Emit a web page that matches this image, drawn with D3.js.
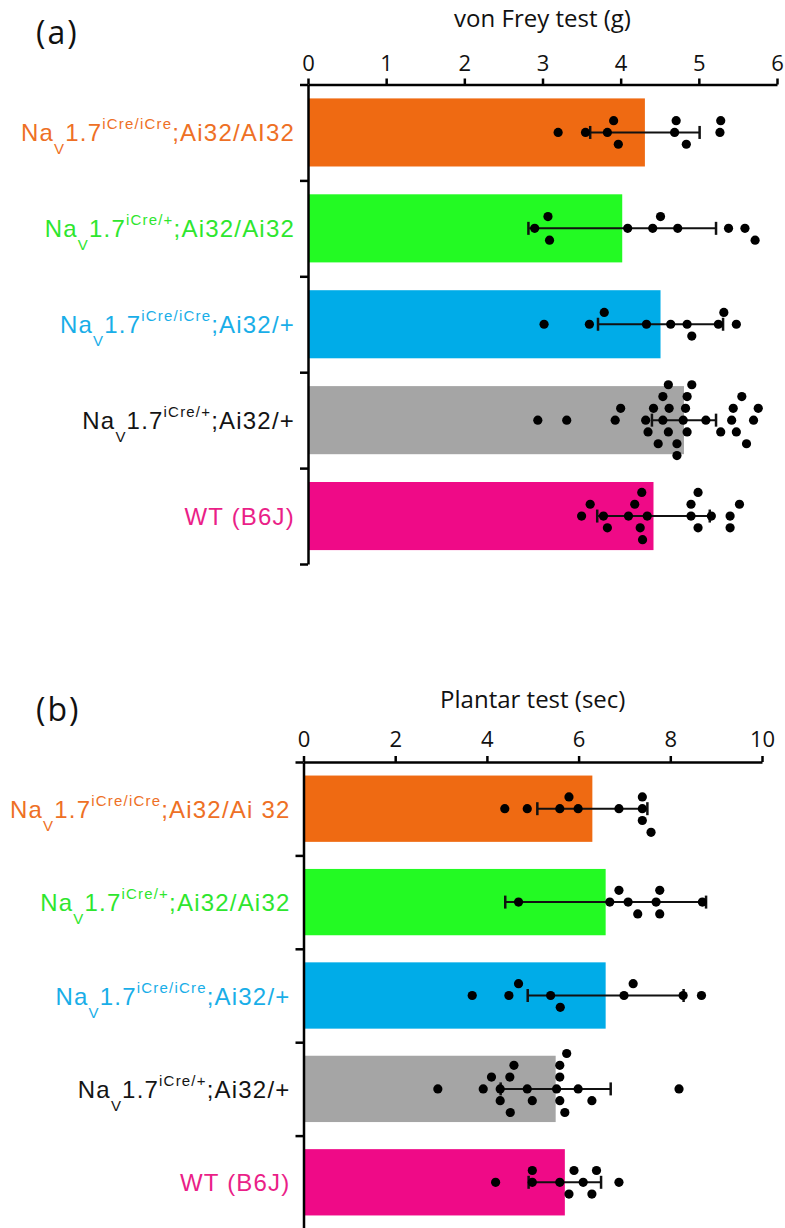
<!DOCTYPE html>
<meta charset="utf-8">
<style>
body { margin: 0; padding: 0; background: #fff; }
svg { display: block; }
.axis path, .axis line { stroke: #000; stroke-width: 2.5px; }
.axis text { font-family: "Open Sans", sans-serif; fill: #111; }
.title { font-family: "Open Sans", sans-serif; fill: #111; }
.glabel { font-family: "Liberation Sans", Arial, sans-serif; letter-spacing: 1.2px; }
</style>
<body>
<script src="https://cdn.jsdelivr.net/npm/d3@7"></script>
<script>
// group labels: NaV1.7^{sup} + tail, the WT row has no prefix
var supText = ["iCre/iCre", "iCre/+", "iCre/iCre", "iCre/+", ""];
var tailA = [";Ai32/AI32", ";Ai32/Ai32", ";Ai32/+", ";Ai32/+", "WT (B6J)"];
var tailB = [";Ai32/Ai 32", ";Ai32/Ai32", ";Ai32/+", ";Ai32/+", "WT (B6J)"];

var barColors = ["#EF6A12", "#23FA23", "#00ACE8", "#A5A5A5", "#EF0A87"];
var labelColors = ["#EE7025", "#2EE62E", "#19AEE8", "#141414", "#EA1F88"];

// (a) von Frey test (g)
var vonFreyTicks = [0, 1, 2, 3, 4, 5, 6];
var vonFreyMean = [4.31, 4.02, 4.51, 4.81, 4.42];
var vonFreySD = [0.70, 1.20, 0.80, 0.41, 0.72];
var vonFreyPoints = [
	[3.20, 3.55, 3.83, 3.91, 3.97, 4.69, 4.71, 4.84, 5.27, 5.28],
	[2.90, 3.07, 3.09, 4.09, 4.41, 4.51, 4.73, 5.38, 5.59, 5.72],
	[3.02, 3.60, 3.79, 4.33, 4.64, 4.85, 4.91, 5.25, 5.32, 5.48],
	[2.94, 3.31, 3.93, 4.00, 4.32, 4.35, 4.42, 4.48, 4.54, 4.54, 4.61, 4.61, 4.62, 4.72, 4.72,
	 4.80, 4.83, 4.85, 4.85, 4.91, 5.09, 5.28, 5.42, 5.44, 5.48, 5.55, 5.61, 5.70, 5.76],
	[3.50, 3.61, 3.78, 3.83, 4.10, 4.18, 4.25, 4.27, 4.28, 4.34, 4.90, 4.90, 4.99, 4.99, 5.16,
	 5.40, 5.40, 5.52]
];

// (b) Plantar test (sec)
var plantarTicks = [0, 2, 4, 6, 8, 10];
var plantarMean = [6.30, 6.59, 6.59, 5.50, 5.70];
var plantarSD = [1.20, 2.19, 1.70, 1.20, 0.79];
var plantarPoints = [
	[4.39, 4.88, 5.59, 5.79, 5.99, 6.88, 7.39, 7.39, 7.39, 7.58],
	[4.69, 6.68, 6.88, 7.08, 7.29, 7.69, 7.77, 7.77, 8.70],
	[3.68, 4.48, 4.69, 5.39, 5.60, 6.99, 7.19, 8.28, 8.68],
	[2.93, 3.92, 4.10, 4.29, 4.29, 4.50, 4.51, 4.59, 4.88, 4.99, 5.52, 5.59, 5.59, 5.59, 5.70,
	 5.74, 5.99, 6.29, 8.19],
	[4.19, 4.99, 4.99, 5.59, 5.79, 5.90, 6.10, 6.29, 6.39, 6.88]
];

var width = 785, height = 1228;

var svg = d3.select("body").append("svg")
		.attr("width", width)
		.attr("height", height);

// simple row-based beeswarm: a point goes to the first row where
// nothing sits closer than minDist px, alternating up/down
function swarm(values, x, minDist) {
	var rows = {}, dir = 1;
	return values.slice().sort(d3.ascending).map(function(v) {
		var px = x(v), cands = [0];
		for (var k = 1; k < 10; k++) cands.push(dir * k, -dir * k);
		var row = cands.find(function(r) {
			return (rows[r] || []).every(function(q) { return Math.abs(q - px) >= minDist; });
		});
		(rows[row] = rows[row] || []).push(px);
		if (row !== 0) dir = -Math.sign(row);
		return {x: px, row: row};
	});
}

function drawPanel(p) {
	var g = svg.append("g");

	var x = d3.scaleLinear()
			.domain(d3.extent(p.ticks))
			.range([p.left, p.right]);

	var y = d3.scaleBand()
			.domain(d3.range(p.mean.length))
			.range([p.top, p.bottom])
			.paddingInner(0.29)
			.paddingOuter(0.145);

	// panel letter and axis title
	g.append("text")
			.attr("class", "title")
			.attr("x", 36)
			.attr("y", p.letterY)
			.style("font-size", "32px")
			.style("letter-spacing", "2px")
			.text(p.letter);

	g.append("text")
			.attr("class", "title")
			.attr("x", (p.left + p.right) / 2)
			.attr("y", p.titleY)
			.attr("text-anchor", "middle")
			.style("font-size", "24px")
			.text(p.title);

	// bars
	g.selectAll(".bar")
			.data(p.mean)
		.enter().append("rect")
			.attr("class", "bar")
			.attr("x", x(0))
			.attr("y", function(d, i) { return y(i); })
			.attr("width", function(d) { return x(d) - x(0); })
			.attr("height", y.bandwidth())
			.attr("fill", function(d, i) { return barColors[i]; });

	// mean +/- SD
	var err = g.selectAll(".err")
			.data(p.mean)
		.enter().append("g")
			.attr("class", "err")
			.attr("transform", function(d, i) { return "translate(0," + (y(i) + y.bandwidth() / 2) + ")"; })
			.attr("stroke", "#111");

	err.append("line")
			.attr("x1", function(d, i) { return x(d - p.sd[i]); })
			.attr("x2", function(d, i) { return x(d + p.sd[i]); })
			.attr("stroke-width", 2);

	[-1, 1].forEach(function(s) {
		err.append("line")
				.attr("x1", function(d, i) { return x(d + s * p.sd[i]); })
				.attr("x2", function(d, i) { return x(d + s * p.sd[i]); })
				.attr("y1", -6.5)
				.attr("y2", 6.5)
				.attr("stroke-width", 2.5);
	});

	// individual animals
	p.points.forEach(function(vals, i) {
		var cy = y(i) + y.bandwidth() / 2;
		g.selectAll(".dot" + i)
				.data(swarm(vals, x, 15.5))
			.enter().append("circle")
				.attr("cx", function(d) { return d.x; })
				.attr("cy", function(d) { return cy - d.row * 11.8; })
				.attr("r", 4.6)
				.attr("fill", "#000");
	});

	// axes
	g.append("g")
			.attr("class", "axis")
			.attr("transform", "translate(0," + p.top + ")")
			.call(d3.axisTop(x)
				.tickValues(p.ticks)
				.tickFormat(d3.format("d"))
				.tickSize(6)
				.tickSizeOuter(0)
				.tickPadding(p.tickPad))
			.selectAll("text")
			.style("font-size", "22px");

	var yb = d3.scaleLinear()
			.domain([0, p.mean.length])
			.range([p.top, p.bottom]);

	g.append("g")
			.attr("class", "axis")
			.attr("transform", "translate(" + p.left + ",0)")
			.call(d3.axisLeft(yb)
				.ticks(p.mean.length)
				.tickFormat("")
				.tickSize(8)
				.tickSizeOuter(0));

	// group labels
	var lab = g.selectAll(".glabel")
			.data(p.tail)
		.enter().append("text")
			.attr("class", "glabel")
			.attr("x", p.left - 13)
			.attr("y", function(d, i) { return y(i) + y.bandwidth() / 2 + 9; })
			.attr("text-anchor", "end")
			.attr("fill", function(d, i) { return labelColors[i]; })
			.style("font-size", "24px");

	lab.each(function(d, i) {
		var t = d3.select(this);
		if (supText[i]) {
			t.append("tspan").text("Na");
			t.append("tspan").attr("dy", 13).style("font-size", "15px").text("V");
			t.append("tspan").attr("dy", -13).text("1.7");
			t.append("tspan").attr("dy", -12).style("font-size", "15px").text(supText[i]);
			t.append("tspan").attr("dy", 12).text(d);
		} else {
			t.append("tspan").text(d);
		}
	});
}

drawPanel({
	letter: "(a)", letterY: 44,
	title: "von Frey test (g)", titleY: 27,
	ticks: vonFreyTicks, mean: vonFreyMean, sd: vonFreySD, points: vonFreyPoints,
	tail: tailA,
	left: 308, right: 777, top: 84.5, bottom: 564, tickPad: 8
});

drawPanel({
	letter: "(b)", letterY: 721,
	title: "Plantar test (sec)", titleY: 708,
	ticks: plantarTicks, mean: plantarMean, sd: plantarSD, points: plantarPoints,
	tail: tailB,
	left: 303.5, right: 762, top: 762, bottom: 1229, tickPad: 9
});
</script>
</body>
